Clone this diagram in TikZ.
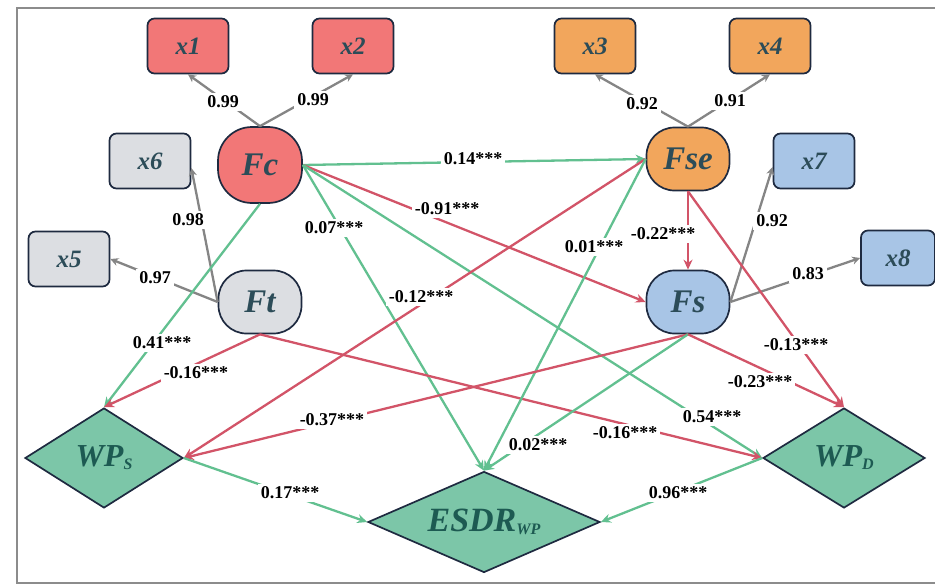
\documentclass[tikz,border=0pt]{standalone}
\usepackage{fontspec}
\setmainfont{Liberation Serif}
\usetikzlibrary{shapes.geometric,arrows.meta}
\definecolor{bord}{HTML}{1E2A40}
\definecolor{fred}{HTML}{F27777}
\definecolor{forange}{HTML}{F2A65C}
\definecolor{fgray}{HTML}{DCDEE2}
\definecolor{fblue}{HTML}{A8C5E6}
\definecolor{fteal}{HTML}{7CC6A8}
\definecolor{ntext}{HTML}{2C4C58}
\definecolor{dtext}{HTML}{1D5A52}
\definecolor{lgreen}{HTML}{62C090}
\definecolor{lred}{HTML}{D25468}
\definecolor{lgray}{HTML}{858585}
\definecolor{frame}{HTML}{8C8C8C}
\newcommand{\subt}[1]{\raisebox{-3pt}{\fontsize{16}{16}\selectfont #1}}
\begin{document}
\begin{tikzpicture}[x=1pt,y=-1pt,
  ind/.style={draw=bord, line width=1.7pt, rounded corners=7pt, minimum width=81pt, minimum height=55pt, inner sep=0pt, font=\fontsize{25}{25}\selectfont\bfseries\itshape, text=ntext},
  fac/.style={draw=bord, line width=1.7pt, rounded corners=28pt, minimum width=83pt, minimum height=63pt, inner sep=0pt, font=\fontsize{33}{33}\selectfont\bfseries\itshape, text=ntext},
  dia/.style={diamond, draw=bord, line width=1.7pt, fill=fteal, inner sep=0pt, aspect=2, font=\fontsize{32}{32}\selectfont\bfseries\itshape, text=dtext},
  lab/.style={fill=white, inner sep=3pt, font=\fontsize{18}{18}\selectfont\bfseries, text=black},
  gload/.style={draw=lgray, line width=2.3pt, -{Stealth[length=8pt,width=8pt]}},
  gpath/.style={draw=lgreen, line width=2.3pt, -{Stealth[length=10pt,width=9pt]}},
  rpath/.style={draw=lred, line width=2.3pt, -{Stealth[length=10pt,width=9pt]}}
]
\useasboundingbox (0,0) rectangle (935,586);
\draw[frame, line width=2.8pt] (936,8) -- (17,8) -- (17,583) -- (936,583);

% indicators
\node[ind, fill=fred] (x1) at (188,46) {x1};
\node[ind, fill=fred] (x2) at (353,46) {x2};
\node[ind, fill=forange] (x3) at (595,46) {x3};
\node[ind, fill=forange] (x4) at (770,46) {x4};
\node[ind, fill=fgray] (x6) at (150,161) {x6};
\node[ind, fill=fgray] (x5) at (69,259) {x5};
\node[ind, fill=fblue] (x7) at (814,161) {x7};
\node[ind, fill=fblue, minimum width=74pt] (x8) at (898,258) {x8};

% factors
\node[fac, fill=fred, minimum width=84pt, minimum height=76pt, rounded corners=34pt] (Fc) at (260,165) {Fc};
\node[fac, fill=forange] (Fse) at (688,159) {Fse};
\node[fac, fill=fgray] (Ft) at (260,302) {Ft};
\node[fac, fill=fblue] (Fs) at (688,302) {Fs};

% outcomes
\node[dia, minimum width=158pt, minimum height=100pt] (WPS) at (104,458) {WP\subt{S}};
\node[dia, minimum width=162pt, minimum height=100pt] (WPD) at (844,458) {WP\subt{D}};
\node[dia, minimum width=232pt, minimum height=101pt, font=\fontsize{34}{34}\selectfont\bfseries\itshape] (ESDR) at (484,522) {ESDR\subt{WP}};

% loadings
\draw[gload] (Fc.north) -- (x1.south);
\draw[gload] (Fc.north) -- (x2.south);
\draw[gload] (Fse.north) -- (x3.south);
\draw[gload] (Fse.north) -- (x4.south);
\draw[gload] (Ft.west) -- ([yshift=-7pt]x6.east);
\draw[gload] (Ft.west) -- (x5.east);
\draw[gload] (Fs.east) -- ([yshift=-6pt]x7.west);
\draw[gload] (Fs.east) -- (x8.west);

% structural paths
\draw[gpath] (Fc.east) -- (Fse.west);
\draw[rpath] (Fc.east) -- (Fs.west);
\draw[gpath] (Fc.east) -- (ESDR.north);
\draw[gpath] (Fc.east) -- (WPD.west);
\draw[gpath] (Fc.south) -- (WPS.north);
\draw[rpath] (Ft.south) -- (WPS.north);
\draw[rpath] (Ft.south) -- (WPD.west);
\draw[rpath] (Fse.west) -- (WPS.east);
\draw[gpath] (Fse.west) -- (ESDR.north);
\draw[rpath] (Fse.south) -- (Fs.north);
\draw[rpath] (Fse.south) -- (WPD.north);
\draw[rpath] (Fs.south) -- (WPS.east);
\draw[gpath] (Fs.south) -- (ESDR.north);
\draw[rpath] (Fs.south) -- (WPD.north);
\draw[gpath] (WPS.east) -- (ESDR.west);
\draw[gpath] (WPD.west) -- (ESDR.east);

% labels
\node[lab] (l1) at (223,102) {0.99};
\node[lab] (l2) at (313,100) {0.99};
\node[lab] (l3) at (642,104) {0.92};
\node[lab] (l4) at (730,101) {0.91};
\node[lab] (l5) at (188,220) {0.98};
\node[lab] (l6) at (155,278) {0.97};
\node[lab] (l7) at (772,221) {0.92};
\node[lab] (l8) at (808,274) {0.83};
\node[lab] (l9) at (473,159) {0.14***};
\node[lab] (l10) at (447,209) {-0.91***};
\node[lab] (l11) at (334,228) {0.07***};
\node[lab] (l12) at (421,297) {-0.12***};
\node[lab] (l13) at (594,247) {0.01***};
\node[lab] (l14) at (663,234) {-0.22***};
\node[lab] (l15) at (162,343) {0.41***};
\node[lab] (l16) at (196,373) {-0.16***};
\node[lab] (l17) at (332,420) {-0.37***};
\node[lab] (l18) at (290,493) {0.17***};
\node[lab] (l19) at (538,445) {0.02***};
\node[lab] (l20) at (625,433) {-0.16***};
\node[lab] (l21) at (712,417) {0.54***};
\node[lab] (l22) at (678,493) {0.96***};
\node[lab] (l23) at (796,345) {-0.13***};
\node[lab] (l24) at (760,382) {-0.23***};
\end{tikzpicture}
\end{document}
